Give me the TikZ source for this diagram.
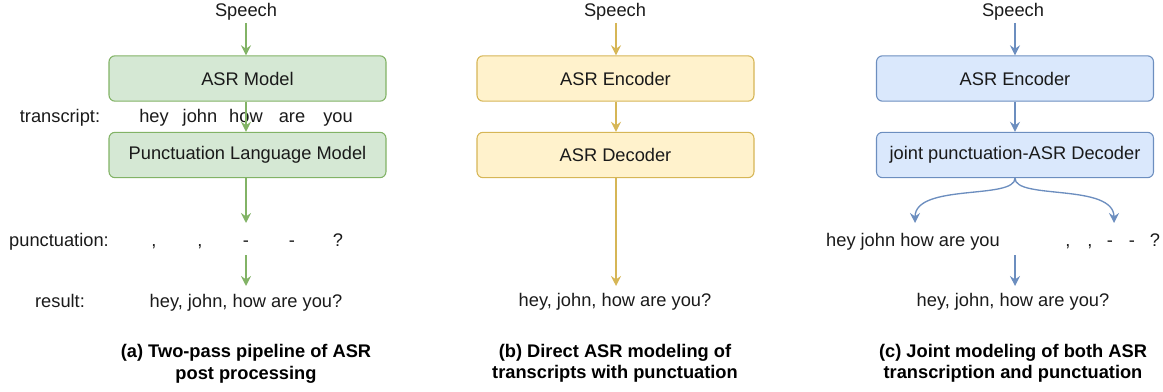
\documentclass[tikz,border=0pt]{standalone}
\usepackage{fontspec}
\setmainfont{Liberation Sans}
\usetikzlibrary{arrows.meta}
\definecolor{gfill}{HTML}{D5E8D4}\definecolor{gline}{HTML}{82B366}
\definecolor{yfill}{HTML}{FFF2CC}\definecolor{yline}{HTML}{D6B656}
\definecolor{bfill}{HTML}{DAE8FC}\definecolor{bline}{HTML}{6C8EBF}
\definecolor{txt}{HTML}{1A1A1A}
\begin{document}
\begin{tikzpicture}[x=0.75pt,y=-0.75pt,
  font=\fontsize{13.7}{16}\selectfont,
  lbl/.style={inner xsep=0pt,inner ysep=3pt,text height=0.84em,text depth=0.16em,text=txt},
  captxt/.style={lbl,font=\fontsize{13.7}{16}\selectfont\bfseries,text=black},
  box/.style={draw,rounded corners=4.5pt,line width=0.8pt,minimum width=207.75pt,minimum height=34pt,inner sep=0pt,text=txt},
  gbox/.style={box,draw=gline,fill=gfill},
  ybox/.style={box,draw=yline,fill=yfill},
  bbox/.style={box,draw=bline,fill=bfill},
  arr/.style={-{Stealth[length=7.5pt,width=7.5pt,inset=2.6pt]},line width=1.25pt}]
\useasboundingbox (0,0) rectangle (1163,392);

% ---------- panel (a)
\node[lbl] (sa) at (246,12) {Speech};
\node[gbox] (asrm) at (247.5,78.5) {ASR Model};
\node[gbox] (plm) at (247.5,155) {Punctuation Language Model};
\node[lbl] (tl) at (60,118) {transcript:};
\node[lbl] (w1) at (154,118) {hey};
\node[lbl] (w2) at (200,118) {john};
\node[lbl] (w3) at (246,118) {how};
\node[lbl] (w4) at (292,118) {are};
\node[lbl] (w5) at (338,118) {you};
\node[lbl] (pl) at (59,242) {punctuation:};
\node[lbl] (p1) at (154,242) {,};
\node[lbl] (p2) at (200,242) {,};
\node[lbl] (p3) at (246,242) {-};
\node[lbl] (p4) at (292,242) {-};
\node[lbl] (p5) at (338,242) {?};
\node[lbl] (rl) at (60,303) {result:};
\node[lbl] (ra) at (246,303) {hey, john, how are you?};
\node[captxt] (ca1) at (246,353) {(a) Two-pass pipeline of ASR};
\node[captxt] (ca2) at (246,375) {post processing};
\coordinate (pa) at (246,223);
\coordinate (pb) at (246,255);
\coordinate (pc) at (246,286);
\draw[arr,gline] (sa.south) -- (sa.south |- asrm.north);
\draw[arr,gline] (asrm.south -| sa.south) -- (plm.north -| sa.south);
\draw[arr,gline] (plm.south -| sa.south) -- (pa);
\draw[arr,gline] (pb) -- (pc);

% ---------- panel (b)
\node[lbl] (sb) at (615,12) {Speech};
\node[ybox] (enb) at (615.5,78.5) {ASR Encoder};
\node[ybox] (deb) at (615.5,155) {ASR Decoder};
\node[lbl] (rb) at (615,302) {hey, john, how are you?};
\node[captxt] (cb1) at (615,353) {(b) Direct ASR modeling of};
\node[captxt] (cb2) at (615,374) {transcripts with punctuation};
\coordinate (qb) at (616,286);
\draw[arr,yline] (sb.south -| qb) -- (enb.north -| qb);
\draw[arr,yline] (enb.south -| qb) -- (deb.north -| qb);
\draw[arr,yline] (deb.south -| qb) -- (qb);

% ---------- panel (c)
\node[lbl] (sc) at (1013,12) {Speech};
\node[bbox] (enc) at (1015,78.5) {ASR Encoder};
\node[bbox] (dec) at (1015,155) {joint punctuation-ASR Decoder};
\node[lbl] (tc) at (913,242) {hey john how are you};
\node[lbl] (m1) at (1068,242) {,};
\node[lbl] (m2) at (1090,242) {,};
\node[lbl] (m3) at (1110,242) {-};
\node[lbl] (m4) at (1132,242) {-};
\node[lbl] (m5) at (1155,242) {?};
\node[lbl] (rc) at (1013,302) {hey, john, how are you?};
\node[captxt] (cc1) at (1013,353) {(c) Joint modeling of both ASR};
\node[captxt] (cc2) at (1013,374) {transcription and punctuation};
\coordinate (cl) at (915,223);
\coordinate (cr) at (1114,223);
\coordinate (cu) at (1015,255);
\coordinate (cd) at (1015,286);
\draw[arr,bline] (sc.south -| enc.north) -- (enc.north);
\draw[arr,bline] (enc.south) -- (dec.north);
\draw[arr,bline,line width=1pt] (dec.south) .. controls (1015,200) and (915,183) .. (cl);
\draw[arr,bline,line width=1pt] (dec.south) .. controls (1015,200) and (1114,183) .. (cr);
\draw[arr,bline,line width=1pt] (cu) -- (cd);
\end{tikzpicture}
\end{document}
